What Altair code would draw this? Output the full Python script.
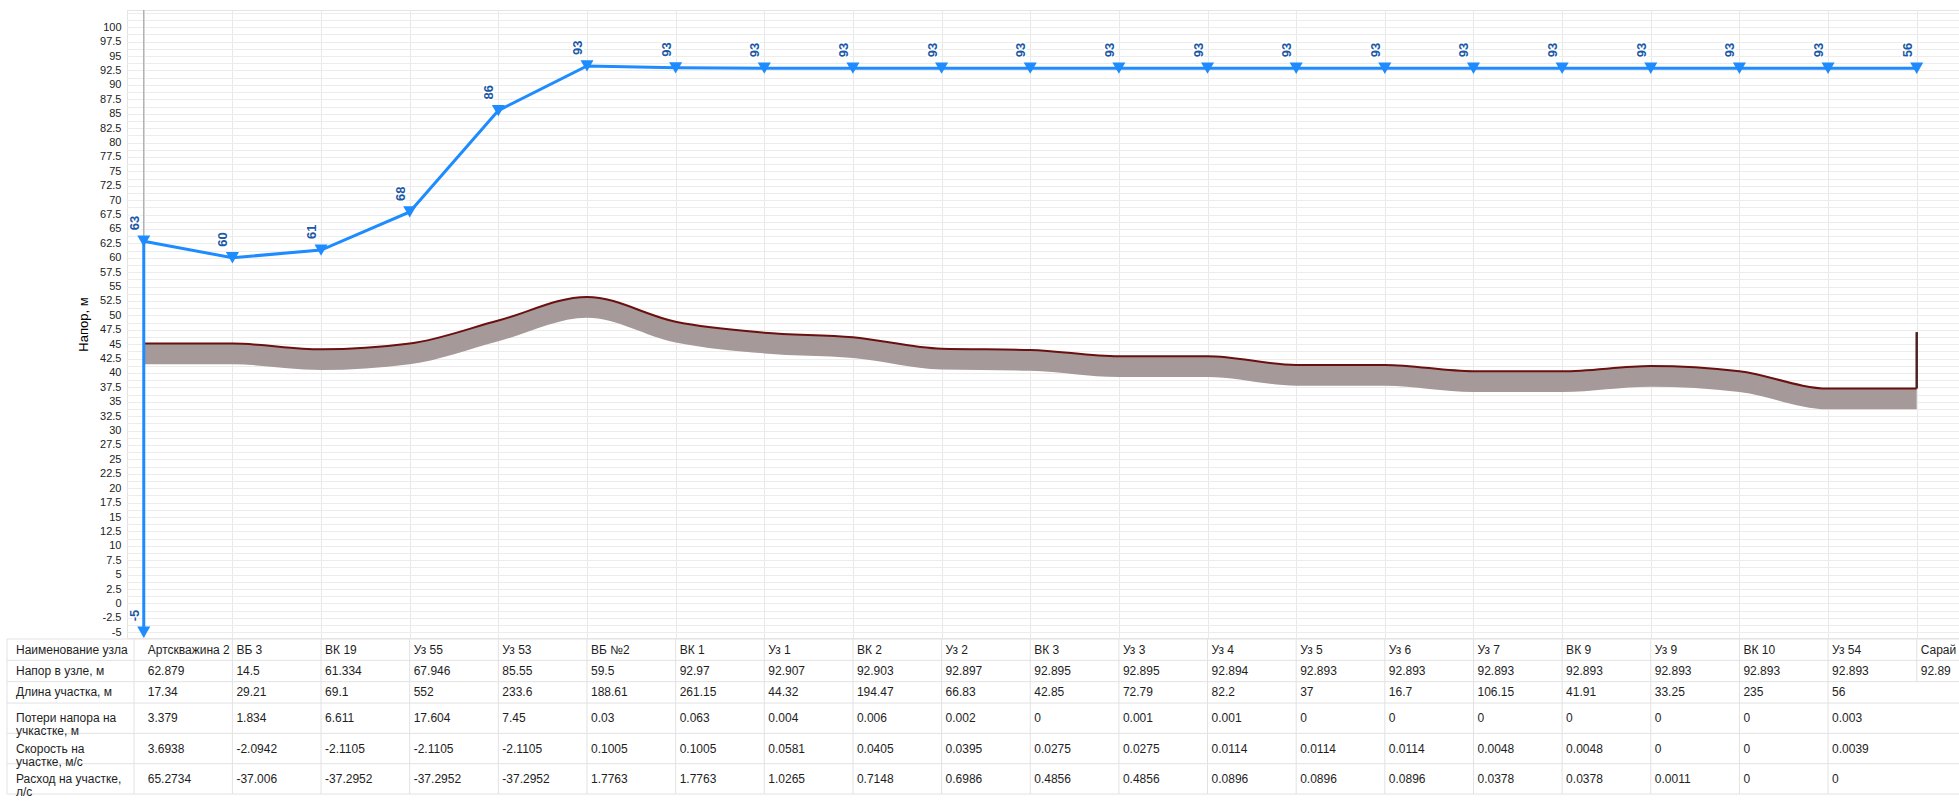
import altair as alt
import pandas as pd

# ---------------- data ----------------
node_names = ["Артскважина 2", "ВБ 3", "ВК 19", "Уз 55", "Уз 53", "ВБ №2", "ВК 1", "Уз 1",
              "ВК 2", "Уз 2", "ВК 3", "Уз 3", "Уз 4", "Уз 5", "Уз 6", "Уз 7", "ВК 9",
              "Уз 9", "ВК 10", "Уз 54", "Сарай"]
node_head = [62.879, 14.5, 61.334, 67.946, 85.55, 59.5, 92.97, 92.907, 92.903, 92.897,
             92.895, 92.895, 92.894, 92.893, 92.893, 92.893, 92.893, 92.893, 92.893,
             92.893, 92.89]
segment_length = [17.34, 29.21, 69.1, 552, 233.6, 188.61, 261.15, 44.32, 194.47, 66.83,
                  42.85, 72.79, 82.2, 37, 16.7, 106.15, 41.91, 33.25, 235, 56]
segment_loss = [3.379, 1.834, 6.611, 17.604, 7.45, 0.03, 0.063, 0.004, 0.006, 0.002,
                0, 0.001, 0.001, 0, 0, 0, 0, 0, 0, 0.003]
segment_velocity = [3.6938, -2.0942, -2.1105, -2.1105, -2.1105, 0.1005, 0.1005, 0.0581,
                    0.0405, 0.0395, 0.0275, 0.0275, 0.0114, 0.0114, 0.0114, 0.0048,
                    0.0048, 0, 0, 0.0039]
segment_flow = [65.2734, -37.006, -37.2952, -37.2952, -37.2952, 1.7763, 1.7763, 1.0265,
                0.7148, 0.6986, 0.4856, 0.4856, 0.0896, 0.0896, 0.0896, 0.0378, 0.0378,
                0.0011, 0, 0]

# piezometric line along the route and the values printed at each node
profile_head = [62.879, 60.0, 61.334, 67.946, 85.55, 93.3, 92.97, 92.907, 92.903, 92.897,
                92.895, 92.895, 92.894, 92.893, 92.893, 92.893, 92.893, 92.893, 92.893,
                92.893, 92.89]
profile_labels = ["63", "60", "61", "68", "86"] + ["93"] * 15 + ["56"]

# ground surface at the nodes
ground = [45.1, 45.1, 44.1, 45.1, 49.1, 53.2, 48.9, 47.0, 46.2, 44.2, 44.0, 42.9, 42.9,
          41.4, 41.4, 40.3, 40.3, 41.2, 40.3, 37.3, 37.3]

well_level = -5
well_label = "-5"
consumer_top = 47.1

row_headers = ["Наименование узла", "Напор в узле, м", "Длина участка, м",
               "Потери напора на\nучкастке, м", "Скорость на\nучастке, м/с",
               "Расход на участке,\nл/с"]

# ---------------- frames ----------------
n = len(node_names)
profile = pd.DataFrame({
    "node": list(range(n)),
    "head": profile_head,
    "label": profile_labels,
    "ground": ground,
})
markers = pd.concat([
    profile[["node", "head", "label"]],
    pd.DataFrame({"node": [0], "head": [well_level], "label": [well_label]}),
], ignore_index=True)
well = pd.DataFrame({"node": [0], "top": [profile_head[0]], "bottom": [well_level]})
consumer = pd.DataFrame({"node": [n - 1], "base": [ground[-1]], "top": [consumer_top]})


def fmt(v):
    return f"{v:g}"


table_rows = [
    node_names,
    [fmt(v) for v in node_head],
    [fmt(v) for v in segment_length],
    [fmt(v) for v in segment_loss],
    [fmt(v) for v in segment_velocity],
    [fmt(v) for v in segment_flow],
]

# row heights: a two-line header gets a taller row
row_units = [1.0 if "\n" not in h else 1.42 for h in row_headers]
edges = [0.0]
for u in row_units:
    edges.append(edges[-1] + u)
table_total = edges[-1]

cells = []
for r, values in enumerate(table_rows):
    for i, txt in enumerate(values):
        cells.append({"node": i, "mid": (edges[r] + edges[r + 1]) / 2, "text": txt})
cells = pd.DataFrame(cells)
headers = pd.DataFrame({"mid": [(edges[r] + edges[r + 1]) / 2 for r in range(len(row_headers))],
                        "text": row_headers})
hlines = pd.DataFrame({"edge": edges})
filled_rows = [sum(1 for row in table_rows if i < len(row)) for i in range(n)]
vlines = pd.DataFrame({"node": list(range(1, n)),
                       "top": [0.0] * (n - 1),
                       "bottom": [edges[filled_rows[i]] for i in range(1, n)]})
frame = pd.DataFrame({"top": [0.0], "bottom": [table_total]})

# ---------------- styling ----------------
W, H = 1832, 628
BLUE = "#1e8bff"
LABEL_BLUE = "#1b58a6"
GROUND_RED = "#6b1010"
FONT = "Liberation Sans"

xscale = alt.Scale(domain=[-0.189, 20.477], nice=False, zero=False)
yscale = alt.Scale(domain=[-6, 103], nice=False, zero=False)
tscale = alt.Scale(domain=[0, table_total], range=[629, 784], nice=False, zero=False)

X = alt.X("node:Q", scale=xscale,
          axis=alt.Axis(values=list(range(n)), labels=False, ticks=False, domain=False,
                        grid=True, gridColor="#e9e9e9", title=None))

y_values = [-5 + 1.25 * k for k in range(87)]
y_axis = alt.Axis(values=y_values,
                  labelExpr="(datum.value % 2.5 === 0 && datum.value <= 100) ? '' + datum.value : ''",
                  ticks=False, domain=False, grid=True, gridColor="#ececec",
                  labelFont=FONT, labelFontSize=11, labelColor="#222", labelPadding=6,
                  labelOverlap=False, labelBound=False,
                  title="Напор, м", titleFont=FONT, titleFontSize=13,
                  titleFontWeight="normal", titleColor="#000", titlePadding=9)


def Y(field):
    return alt.Y(field, scale=yscale, axis=y_axis)


def TY(field):
    return alt.Y(field, scale=tscale, axis=None)


# ---------------- profile ----------------
ground_band = alt.Chart(profile).transform_calculate(
    ground_low="datum.ground - 3.6"
).mark_area(interpolate="monotone", color="#a59999").encode(
    x=X, y=Y("ground:Q"), y2="ground_low:Q")

ground_line = alt.Chart(profile).mark_line(
    interpolate="monotone", color=GROUND_RED, strokeWidth=2).encode(x=X, y=Y("ground:Q"))

consumer_rule = alt.Chart(consumer).mark_rule(color="#4e2222", strokeWidth=2.5).encode(
    x=X, y=Y("base:Q"), y2="top:Q")

start_rule = alt.Chart(well).mark_rule(color="#9a9a9a", strokeWidth=1).encode(
    x=X, y=Y("top:Q"), y2=alt.value(0))

well_rule = alt.Chart(well).mark_rule(color=BLUE, strokeWidth=3).encode(
    x=X, y=Y("top:Q"), y2="bottom:Q")

head_line = alt.Chart(profile).mark_line(color=BLUE, strokeWidth=3).encode(
    x=X, y=Y("head:Q"))

head_points = alt.Chart(markers).mark_point(
    shape="triangle-down", filled=True, size=170, color=BLUE, opacity=1).encode(
    x=X, y=Y("head:Q"))

label_style = dict(angle=270, align="left", baseline="middle", dx=11, dy=-9, font=FONT,
                   fontSize=13, fontWeight="bold")

label_halo = alt.Chart(markers).mark_text(
    stroke="white", strokeWidth=4, color="white", **label_style).encode(
    x=X, y=Y("head:Q"), text="label:N")

label_text = alt.Chart(markers).mark_text(color=LABEL_BLUE, **label_style).encode(
    x=X, y=Y("head:Q"), text="label:N")

profile_layer = alt.layer(ground_band, ground_line, consumer_rule, start_rule, well_rule,
                          head_line, head_points, label_halo, label_text)

# ---------------- table ----------------
LINE_C = "#e2e2e2"
row_lines = alt.Chart(hlines).mark_rule(color=LINE_C, strokeWidth=1).encode(
    x=alt.value(-120), x2=alt.value(W), y=TY("edge:Q"))

col_lines = alt.Chart(vlines).mark_rule(color=LINE_C, strokeWidth=1).encode(
    x=X, y=TY("top:Q"), y2="bottom:Q")

left_border = alt.Chart(frame).mark_rule(color=LINE_C, strokeWidth=1).encode(
    x=alt.value(-120), y=TY("top:Q"), y2="bottom:Q")

header_border = alt.Chart(frame).mark_rule(color=LINE_C, strokeWidth=1).encode(
    x=alt.value(7), y=TY("top:Q"), y2="bottom:Q")

cell_text = alt.Chart(cells).mark_text(
    align="left", baseline="middle", dx=4, font=FONT, fontSize=12, color="#1e1e1e",
    limit=84, ellipsis="").encode(x=X, y=TY("mid:Q"), text="text:N")

header_text = alt.Chart(headers).mark_text(
    align="left", baseline="middle", font=FONT, fontSize=12, color="#1e1e1e",
    lineBreak="\n", lineHeight=13).encode(
    x=alt.value(-111), y=TY("mid:Q"), text="text:N")

table_layer = alt.layer(row_lines, col_lines, left_border, header_border, cell_text,
                        header_text)

chart = alt.layer(profile_layer, table_layer).resolve_scale(y="independent").properties(
    width=W, height=H,
    padding={"left": 127, "top": 10, "right": 0, "bottom": 162},
    autosize=alt.AutoSizeParams(type="none"),
    background="white",
).configure_view(stroke="#e4e4e4")

chart.save("out.html", embed_options={"renderer": "svg", "actions": False})
